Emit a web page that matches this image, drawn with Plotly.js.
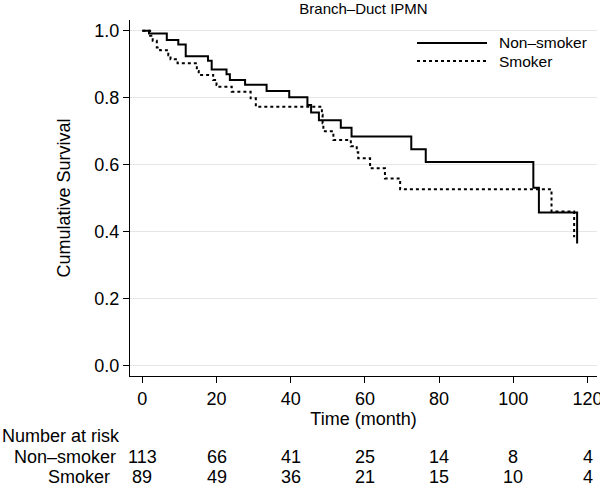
<!DOCTYPE html>
<html>
<head>
<meta charset="utf-8">
<script src="https://cdn.plot.ly/plotly-3.0.1.min.js"></script>
<style>html,body{margin:0;padding:0;background:#fff;}#chart{width:600px;height:486px;}</style>
</head>
<body>
<div id="chart"></div>
<script>
// ---- data ----
const chartTitle = "Branch\u2013Duct IPMN";
const seriesNames = ["Non\u2013smoker", "Smoker"];

const nonSmokerTime = [0, 1.8, 6.6, 9.7, 11.7, 17.7, 18.7, 22.7, 23.6, 27.7, 33.5, 39.6, 44.5, 45.5, 47.6, 53.5, 56.4, 72.5, 76.4, 105.4, 106.9, 117.2];
const nonSmokerSurv = [1.0, 0.992, 0.972, 0.959, 0.924, 0.910, 0.884, 0.870, 0.853, 0.839, 0.820, 0.801, 0.778, 0.756, 0.733, 0.710, 0.684, 0.646, 0.608, 0.531, 0.457, 0.365];

const smokerTime = [0, 2.1, 2.8, 3.9, 4.8, 7.0, 7.6, 9.5, 14.7, 15.2, 19.1, 20.0, 20.5, 24.1, 29.2, 30.6, 48.4, 48.6, 48.8, 51.5, 56.2, 57.8, 58.2, 61.4, 65.4, 69.5, 110.3, 116.4];
const smokerSurv = [1.0, 0.985, 0.970, 0.950, 0.942, 0.927, 0.915, 0.903, 0.880, 0.868, 0.853, 0.838, 0.833, 0.818, 0.798, 0.773, 0.749, 0.724, 0.700, 0.674, 0.655, 0.637, 0.619, 0.589, 0.559, 0.527, 0.460, 0.383];

const xTicks = [0, 20, 40, 60, 80, 100, 120];
const yTicks = [0.0, 0.2, 0.4, 0.6, 0.8, 1.0];
const yTickLabels = ["0.0", "0.2", "0.4", "0.6", "0.8", "1.0"];

const riskTitle = "Number at risk";
const riskTimes = [0, 20, 40, 60, 80, 100, 120];
const riskNonSmoker = [113, 66, 41, 25, 14, 8, 4];
const riskSmoker = [89, 49, 36, 21, 15, 10, 4];

// ---- chart ----
const FONT = "Liberation Sans, Arial, Helvetica, sans-serif";

const traces = [
  {x: nonSmokerTime, y: nonSmokerSurv, name: seriesNames[0], type: "scatter", mode: "lines",
   line: {shape: "hv", color: "#000", width: 2, dash: "solid"}, showlegend: false, hoverinfo: "skip"},
  {x: smokerTime, y: smokerSurv, name: seriesNames[1], type: "scatter", mode: "lines",
   line: {shape: "hv", color: "#000", width: 2, dash: "dot"}, showlegend: false, hoverinfo: "skip"}
];

const annotations = [];
// risk table
annotations.push({xref: "paper", yref: "paper", x: -130/467, y: -0.1685, xanchor: "left", yanchor: "middle",
  text: riskTitle, showarrow: false, font: {family: FONT, size: 18, color: "#000"}});
const rows = [[seriesNames[0], riskNonSmoker, -0.2275, -0.026], [seriesNames[1], riskSmoker, -0.2837, -0.039]];
rows.forEach(r => {
  annotations.push({xref: "paper", yref: "paper", x: r[3], y: r[2], xanchor: "right", yanchor: "middle",
    text: r[0], showarrow: false, font: {family: FONT, size: 18, color: "#000"}});
  riskTimes.forEach((t, i) => {
    annotations.push({xref: "x", yref: "paper", x: t, y: r[2], xanchor: "center", yanchor: "middle",
      text: String(r[1][i]), showarrow: false, font: {family: FONT, size: 18, color: "#000"}});
  });
});
// legend (manual)
const legY = [0.9354, 0.8848];
const shapes = [
  {type: "line", xref: "paper", yref: "paper", x0: 0.6146, x1: 0.7645, y0: legY[0], y1: legY[0], line: {color: "#000", width: 2}},
  {type: "line", xref: "paper", yref: "paper", x0: 0.6146, x1: 0.7645, y0: legY[1], y1: legY[1], line: {color: "#000", width: 2, dash: "dot"}}
];
seriesNames.forEach((n, i) => {
  annotations.push({xref: "paper", yref: "paper", x: 0.7859, y: legY[i], xanchor: "left", yanchor: "middle",
    text: n, showarrow: false, font: {family: FONT, size: 15.5, color: "#000"}});
});

const layout = {
  width: 600, height: 486,
  margin: {l: 130, r: 3, t: 20, b: 110, pad: 0},
  paper_bgcolor: "#fff", plot_bgcolor: "#fff",
  font: {family: FONT, size: 18, color: "#000"},
  title: {text: chartTitle, font: {family: FONT, size: 15, color: "#000"}, x: 0.5, xref: "paper", y: 1 - 8.5/486, yref: "container", yanchor: "middle"},
  xaxis: {
    range: [-3.32, 122.56], tickvals: xTicks, ticktext: xTicks.map(String),
    ticks: "outside", ticklen: 6, tickwidth: 1, tickcolor: "#000",
    showline: true, linecolor: "#000", linewidth: 1, showgrid: false, zeroline: false,
    ticklabeloverflow: "allow",
    tickfont: {family: FONT, size: 18, color: "#000"},
    title: {text: "Time (month)", font: {family: FONT, size: 18, color: "#000"}, standoff: 0},
    automargin: false
  },
  yaxis: {
    range: [-0.031, 1.032], tickvals: yTicks, ticktext: yTickLabels,
    ticks: "outside", ticklen: 6, tickwidth: 1, tickcolor: "#000",
    showline: true, linecolor: "#000", linewidth: 1,
    showgrid: true, gridcolor: "#e6e6e6", gridwidth: 1, zeroline: false,
    tickfont: {family: FONT, size: 18, color: "#000"},
    title: {text: "Cumulative Survival", font: {family: FONT, size: 18, color: "#000"}, standoff: 19},
    automargin: false
  },
  shapes: shapes,
  annotations: annotations,
  showlegend: false
};

Plotly.newPlot("chart", traces, layout, {staticPlot: true, displayModeBar: false});
</script>
</body>
</html>
